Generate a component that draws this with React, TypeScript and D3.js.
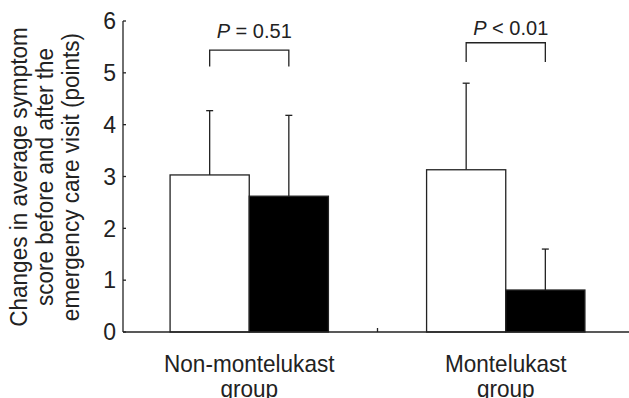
import React from "react";
import * as d3 from "d3";

const groups = ["Non-montelukast group", "Montelukast group"];
const seriesNames = ["open", "filled"];
const openMeans = [3.03, 3.13];
const filledMeans = [2.62, 0.81];
const openErrors = [1.24, 1.67];
const filledErrors = [1.56, 0.79];
const pSymbols = ["=", "<"];
const pValues = ["0.51", "0.01"];
const bracketTop = [5.44, 5.58];
const bracketBottom = [5.12, 5.21];
const pLabelLevel = [5.67, 5.73];
const yTicks = [0, 1, 2, 3, 4, 5, 6];
const yLabelLines = [
  "Changes in average symptom",
  "score before and after the",
  "emergency care visit (points)",
];

const width = 629;
const height = 398;
const left = 123;
const bottom = 332;
const top = 21;
const font = "Liberation Sans, Arial, sans-serif";
const ink = "#222";
const squeeze = 0.94;

const x = d3.scaleBand().domain(groups).range([121, 634]).padding(0);
const inner = d3
  .scaleBand()
  .domain(seriesNames)
  .range([0, x.bandwidth()])
  .paddingInner(0)
  .paddingOuter(0.62);
const y = d3.scaleLinear().domain([0, 6]).range([bottom, top]);

const App = () => {
  const bars = groups.flatMap((g, i) => [
    { g, s: "open", v: openMeans[i], e: openErrors[i], fill: "#fff" },
    { g, s: "filled", v: filledMeans[i], e: filledErrors[i], fill: "#000" },
  ]);
  const capW = 3.5;

  return (
    <svg
      width={width}
      height={height}
      style={{ position: "absolute", left: 0, top: 0, background: "#fff" }}
      fontFamily={font}
    >
      {/* error bars behind bars */}
      {bars.map((d) => {
        const cx = x(d.g)! + inner(d.s)! + inner.bandwidth() / 2;
        return (
          <g key={"e" + d.g + d.s} stroke={ink} strokeWidth={1.3}>
            <line x1={cx} x2={cx} y1={y(d.v)} y2={y(d.v + d.e)} />
            <line x1={cx - capW} x2={cx + capW} y1={y(d.v + d.e)} y2={y(d.v + d.e)} />
          </g>
        );
      })}
      {bars.map((d) => (
        <rect
          key={"b" + d.g + d.s}
          x={x(d.g)! + inner(d.s)!}
          width={inner.bandwidth()}
          y={y(d.v)}
          height={bottom - y(d.v)}
          fill={d.fill}
          stroke={ink}
          strokeWidth={1.3}
        />
      ))}

      {/* axes */}
      <line x1={left} x2={left} y1={top} y2={bottom} stroke={ink} strokeWidth={1.3} />
      <line x1={left} x2={width} y1={bottom} y2={bottom} stroke={ink} strokeWidth={1.3} />
      <line x1={x.range()[0] + x.step()} x2={x.range()[0] + x.step()} y1={bottom} y2={bottom - 4} stroke={ink} strokeWidth={1.3} />
      {yTicks.map((t) => (
        <g key={t}>
          <line x1={left} x2={left + 3} y1={y(t)} y2={y(t)} stroke={ink} strokeWidth={1.3} />
          <text x={left - 7} y={y(t)} dy="0.36em" textAnchor="end" fontSize={23} fill={ink}>
            {t}
          </text>
        </g>
      ))}

      {/* group labels */}
      {groups.map((g) => {
        const words = g.split(" ");
        const cx = x(g)! + x.bandwidth() / 2;
        return (
          <text key={g} transform={`translate(${cx},372) scale(${squeeze},1)`} textAnchor="middle" fontSize={24} fill={ink}>
            <tspan x={0}>{words[0]}</tspan>
            <tspan x={0} dy={25}>{words.slice(1).join(" ")}</tspan>
          </text>
        );
      })}

      {/* y label */}
      <text transform={`translate(27,177) rotate(-90) scale(${squeeze},1)`} textAnchor="middle" fontSize={24} fill={ink}>
        {yLabelLines.map((l, i) => (
          <tspan key={i} x={0} dy={i === 0 ? 0 : 26}>
            {l}
          </tspan>
        ))}
      </text>

      {/* significance brackets */}
      {groups.map((g, i) => {
        const x1 = x(g)! + inner("open")! + inner.bandwidth() / 2;
        const x2 = x(g)! + inner("filled")! + inner.bandwidth() / 2;
        const yt = y(bracketTop[i]);
        const yb = y(bracketBottom[i]);
        return (
          <g key={"p" + g}>
            <path d={`M${x1},${yb}V${yt}H${x2}V${yb}`} fill="none" stroke={ink} strokeWidth={1.3} />
            <text x={(x1 + x2) / 2 + 5} y={y(pLabelLevel[i])} textAnchor="middle" fontSize={20} fill={ink}>
              <tspan fontStyle="italic">P</tspan>
              {` ${pSymbols[i]} ${pValues[i]}`}
            </text>
          </g>
        );
      })}
    </svg>
  );
};

export default App;
